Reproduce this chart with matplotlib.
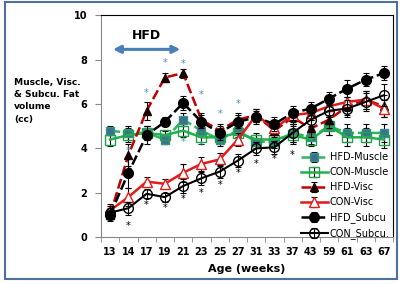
import numpy as np
import matplotlib
matplotlib.use("Agg")
import matplotlib.pyplot as plt
from matplotlib.patches import Rectangle

# data
ages = ['13', '14', '17', '19', '21', '23', '25', '27', '31', '33', '37', '43', '59', '61', '63', '67']

hfd_muscle = [4.8, 4.7, 4.7, 4.4, 5.3, 4.8, 4.4, 4.8, 4.3, 4.3, 4.7, 4.5, 5.0, 4.7, 4.7, 4.7]
hfd_muscle_err = [0.2, 0.3, 0.3, 0.2, 0.3, 0.3, 0.3, 0.3, 0.3, 0.3, 0.4, 0.3, 0.4, 0.4, 0.4, 0.4]
con_muscle = [4.4, 4.6, 4.7, 4.6, 4.8, 4.5, 4.5, 4.7, 4.4, 4.4, 4.6, 4.4, 5.0, 4.5, 4.5, 4.4]
con_muscle_err = [0.3, 0.3, 0.3, 0.2, 0.3, 0.3, 0.3, 0.3, 0.3, 0.3, 0.4, 0.3, 0.4, 0.4, 0.4, 0.4]

hfd_visc = [1.0, 3.7, 5.7, 7.2, 7.4, 5.3, 4.8, 5.3, 5.5, 4.8, 5.4, 4.9, 5.3, 5.9, 6.2, 5.9]
hfd_visc_err = [0.2, 0.5, 0.4, 0.2, 0.2, 0.3, 0.3, 0.3, 0.3, 0.3, 0.3, 0.4, 0.4, 0.4, 0.4, 0.5]
con_visc = [1.2, 1.8, 2.5, 2.4, 2.9, 3.3, 3.5, 4.4, 5.5, 4.9, 5.5, 5.6, 5.9, 6.1, 6.2, 5.8]
con_visc_err = [0.3, 0.4, 0.2, 0.2, 0.4, 0.3, 0.3, 0.3, 0.3, 0.3, 0.3, 0.3, 0.4, 0.4, 0.4, 0.4]

hfd_subcu = [1.0, 2.9, 4.6, 5.2, 6.05, 5.2, 4.7, 5.2, 5.4, 5.1, 5.6, 5.8, 6.25, 6.7, 7.1, 7.4]
hfd_subcu_err = [0.3, 0.7, 0.4, 0.2, 0.3, 0.3, 0.3, 0.3, 0.3, 0.3, 0.3, 0.3, 0.3, 0.4, 0.3, 0.3]
con_subcu = [1.1, 1.3, 1.95, 1.8, 2.3, 2.65, 2.95, 3.45, 4.0, 4.05, 4.7, 5.3, 5.7, 5.8, 6.1, 6.4]
con_subcu_err = [0.3, 0.3, 0.2, 0.2, 0.3, 0.3, 0.3, 0.3, 0.3, 0.3, 0.4, 0.3, 0.3, 0.4, 0.4, 0.5]

# significance marks
blue_star_age = ['14', '17', '19', '21', '23', '25', '27']
blue_star_y = [3.9, 6.5, 7.85, 7.8, 6.4, 5.55, 6.0]
green_star_age = ['21', '23']
green_star_y = [4.3, 4.1]
black_star_age = ['14', '17', '19', '21', '23', '25', '27', '31', '33', '37']
black_star_y = [0.5, 1.45, 1.3, 1.7, 2.0, 2.35, 2.9, 3.3, 3.5, 3.7]

x = np.arange(len(ages)) + 0.5
pos = {a: p for a, p in zip(ages, x)}

fig = plt.figure(figsize=(4, 2.84), dpi=100)
ax = fig.add_axes([0.2525, 0.1655, 0.73, 0.78])

eb = dict(ecolor='black', elinewidth=0.8, capsize=2.2, capthick=0.8)

ax.errorbar(x, hfd_muscle, yerr=hfd_muscle_err, color='#2fb75a', lw=1.8, ls=(0, (4, 1.5)),
            marker='s', ms=6, mfc='#3a7190', mec='#3a8f84', label='HFD-Muscle', zorder=3, **eb)
ax.errorbar(x, con_muscle, yerr=con_muscle_err, color='#22b14c', lw=1.8, ls='-',
            marker='s', ms=6.5, mfc='none', mec='#22a050', label='CON-Muscle', zorder=3, **eb)
ax.errorbar(x, hfd_visc, yerr=hfd_visc_err, color='#c00000', lw=1.8, ls=(0, (4, 1.5)),
            marker='^', ms=6, mfc='#1a0000', mec='#1a0000', label='HFD-Visc', zorder=4, **eb)
ax.errorbar(x, con_visc, yerr=con_visc_err, color='#e01b1b', lw=1.8, ls='-',
            marker='^', ms=6.5, mfc='white', mec='#e01b1b', label='CON-Visc', zorder=4, **eb)
ax.errorbar(x, hfd_subcu, yerr=hfd_subcu_err, color='black', lw=1.8, ls=(0, (4, 1.5)),
            marker='o', ms=7, mfc='black', mec='black', label='HFD_Subcu', zorder=6, **eb)
ax.errorbar(x, con_subcu, yerr=con_subcu_err, color='black', lw=1.5, ls='-',
            marker='o', ms=7, mfc='none', mec='black', label='CON_Subcu.', zorder=5, **eb)

for a, y in zip(blue_star_age, blue_star_y):
    ax.text(pos[a], y, '*', color='#4a8bc4', fontsize=7, ha='center', va='center', zorder=7)
for a, y in zip(green_star_age, green_star_y):
    ax.text(pos[a], y, '*', color='#2aae7a', fontsize=7, ha='center', va='center', zorder=7)
for a, y in zip(black_star_age, black_star_y):
    ax.text(pos[a], y, '*', color='black', fontsize=7, ha='center', va='center', zorder=7)

# HFD period arrow
ax.annotate('', xy=(pos['13'], 8.47), xytext=(pos['21'], 8.47),
            arrowprops=dict(arrowstyle='<|-|>', color='#4a7ebb', lw=2.2, mutation_scale=11))
ax.text((pos['13'] + pos['21']) / 2, 9.1, 'HFD', fontsize=9, fontweight='bold',
        ha='center', va='center')

ax.set_xlim(0, len(ages))
ax.set_ylim(0, 10)
ax.set_xticks(x)
ax.set_xticklabels(ages, fontsize=7, fontweight='bold')
ax.set_xticks(np.arange(len(ages) + 1), minor=True)
ax.tick_params(axis='x', which='major', length=0, pad=7)
ax.tick_params(axis='x', which='minor', length=3.5, color='#888888', direction='out')
ax.set_yticks([0, 2, 4, 6, 8, 10])
ax.set_yticklabels(['0', '2', '4', '6', '8', '10'], fontsize=7, fontweight='bold')
ax.tick_params(axis='y', length=4, color='#888888', pad=6)
ax.spines['left'].set_color('#888888')
ax.spines['bottom'].set_color('#888888')
for s in ['top', 'right']:
    ax.spines[s].set_color('black')
    ax.spines[s].set_linewidth(0.8)

ax.set_xlabel('Age (weeks)', fontsize=8, fontweight='bold', labelpad=5)

fig.text(0.035, 0.725, 'Muscle, Visc.\n& Subcu. Fat\nvolume\n(cc)', fontsize=6.6,
         fontweight='bold', ha='left', va='top', linespacing=1.45)

ax.legend(loc='upper left', bbox_to_anchor=(0.67, 0.40), frameon=False, fontsize=7,
          handlelength=2.8, handletextpad=0.2, labelspacing=0.52, borderaxespad=0)

fig.patches.append(Rectangle((0.013, 0.018), 0.98, 0.975, transform=fig.transFigure,
                             fill=False, edgecolor='#4f6f9f', lw=1.5))

fig.savefig('out.png', dpi=100)
